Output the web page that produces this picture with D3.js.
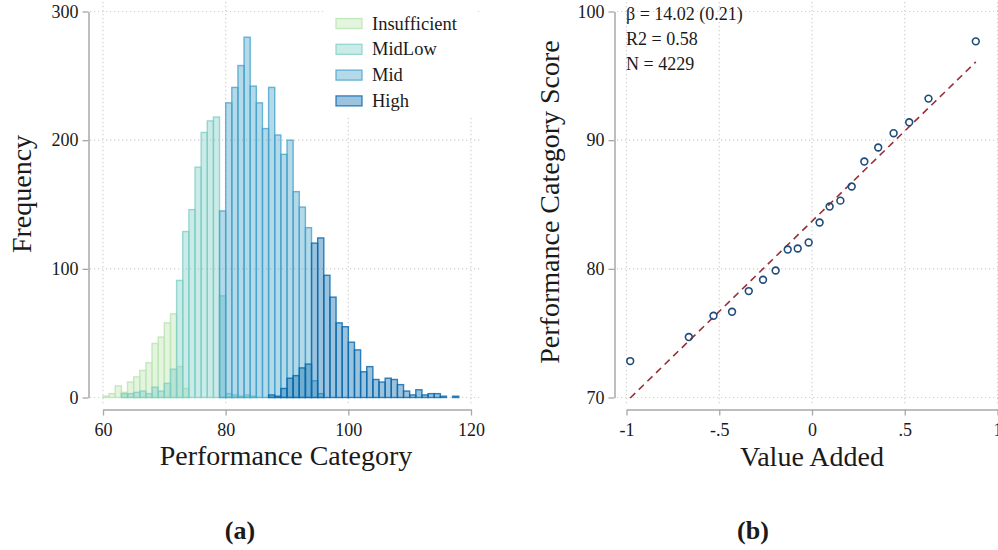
<!DOCTYPE html>
<html>
<head>
<meta charset="utf-8">
<script src="https://cdn.jsdelivr.net/npm/d3@7"></script>
<style>
  body { margin: 0; background: #fff; }
  svg text { font-family: "Liberation Serif", "Times New Roman", serif; fill: #1a1a1a; }
</style>
</head>
<body>
<svg id="chart" width="998" height="550"></svg>
<script>
// histogram counts per category, one value per 1-point bin starting at *Start
const insufficientStart = 60;
const insufficientCounts = [1, 3, 9, 4, 12, 16, 21, 27, 42, 47, 58, 65, 24, 7];
const midLowStart = 63;
const midLowCounts = [3, 3, 4, 5, 3, 8, 5, 11, 22, 91, 129, 146, 179, 206, 215, 218, 79, 3, 2, 1, 2, 1];
const midStart = 79;
const midCounts = [145, 229, 241, 258, 280, 242, 229, 209, 241, 204, 189, 200, 160, 148, 132, 13, 3];
const highStart = 87;
const highCounts = [2, 1, 7, 15, 17, 23, 26, 120, 124, 95, 78, 58, 55, 43, 37, 20, 24, 14, 12, 15, 14, 10, 5, 2, 6, 2, 3, 3, 1, 0, 1];
const categoryNames = ['Insufficient', 'MidLow', 'Mid', 'High'];

const histXTicks = [60, 80, 100, 120];
const histYTicks = [0, 100, 200, 300];

// binned scatter (value added vs performance category score)
const valueAdded = [-0.98, -0.664, -0.531, -0.431, -0.341, -0.264, -0.196, -0.131, -0.077, -0.018,
  0.041, 0.095, 0.153, 0.214, 0.282, 0.357, 0.44, 0.524, 0.628, 0.883];
const categoryScore = [72.83, 74.7, 76.35, 76.66, 78.27, 79.15, 79.87, 81.5, 81.58, 82.05,
  83.6, 84.84, 85.3, 86.4, 88.34, 89.43, 90.54, 91.39, 93.23, 97.68];
const fitSlope = 14.02;
const fitIntercept = 83.7;
const statLines = ['\u03b2 = 14.02 (0.21)', 'R2 = 0.58', 'N = 4229'];

const vaTicks = [-1, -0.5, 0, 0.5, 1];
const vaTickLabels = ['-1', '-.5', '0', '.5', '1'];
const scoreTicks = [70, 80, 90, 100];

const styles = {
  Insufficient: { fill: '#ccebc5', fo: 0.55, stroke: '#bfe5b7', so: 0.9 },
  MidLow: { fill: '#7bccc4', fo: 0.4, stroke: '#7bccc4', so: 0.75 },
  Mid: { fill: '#43a2ca', fo: 0.4, stroke: '#43a2ca', so: 0.78 },
  High: { fill: '#0868ac', fo: 0.4, stroke: '#0868ac', so: 0.82 }
};

const series = [
  { name: 'Insufficient', start: insufficientStart, counts: insufficientCounts },
  { name: 'MidLow', start: midLowStart, counts: midLowCounts },
  { name: 'Mid', start: midStart, counts: midCounts },
  { name: 'High', start: highStart, counts: highCounts }
];

const svg = d3.select('#chart');
const gridColor = '#cfcfcf';
const axisColor = '#a8a8a8';

function styleAxis(g) {
  g.select('.domain').attr('stroke', axisColor).attr('stroke-width', 1.5);
  g.selectAll('.tick line').attr('stroke', axisColor).attr('stroke-width', 1.3);
  g.selectAll('.tick text').attr('font-size', 18).attr('fill', '#1a1a1a')
    .attr('font-family', '"Liberation Serif", serif');
}

function grid(g, xs, ys, x0, x1, y0, y1) {
  g.selectAll('.hgrid').data(ys).enter().append('line')
    .attr('x1', x0).attr('x2', x1)
    .attr('y1', d => d).attr('y2', d => d)
    .attr('stroke', gridColor).attr('stroke-width', 1.2).attr('stroke-dasharray', '1.2,2.8');
  g.selectAll('.vgrid').data(xs).enter().append('line')
    .attr('x1', d => d).attr('x2', d => d)
    .attr('y1', y0).attr('y2', y1)
    .attr('stroke', gridColor).attr('stroke-width', 1.2).attr('stroke-dasharray', '1.2,2.8');
}

// ---------- panel (a): histogram ----------
const xL = d3.scaleLinear().domain([60, 120]).range([103, 471]);
const yL = d3.scaleLinear().domain([0, 300]).range([397.5, 11.5]);

const left = svg.append('g');
grid(left, histXTicks.map(xL), histYTicks.map(yL), 90, 481, 2, 406);

series.forEach(s => {
  const st = styles[s.name];
  const bars = s.counts.map((c, i) => ({ x0: s.start + i, count: c })).filter(d => d.count > 0);
  left.selectAll('.bar_' + s.name).data(bars).enter().append('rect')
    .attr('class', 'bar_' + s.name)
    .attr('x', d => xL(d.x0))
    .attr('y', d => yL(d.count))
    .attr('width', d => xL(d.x0 + 1) - xL(d.x0))
    .attr('height', d => yL(0) - yL(d.count))
    .attr('fill', st.fill).attr('fill-opacity', st.fo)
    .attr('stroke', st.stroke).attr('stroke-opacity', st.so).attr('stroke-width', 1.4);
});

left.append('g')
  .attr('transform', 'translate(88.5,0)')
  .call(d3.axisLeft(yL).tickValues(histYTicks).tickSize(6).tickSizeOuter(0).tickPadding(4))
  .call(styleAxis);

left.append('g')
  .attr('transform', 'translate(0,409.5)')
  .call(d3.axisBottom(xL).tickValues(histXTicks).tickSize(6).tickSizeOuter(0).tickPadding(8))
  .call(styleAxis);

// legend
const legend = left.append('g');
legend.append('rect').attr('x', 326).attr('y', 0).attr('width', 152).attr('height', 117).attr('fill', '#fff');
const items = legend.selectAll('.legend').data(categoryNames).enter().append('g')
  .attr('class', 'legend')
  .attr('transform', (d, i) => 'translate(336,' + (18.5 + i * 25.8) + ')');
items.append('rect')
  .attr('width', 26).attr('height', 10)
  .attr('fill', d => styles[d].fill).attr('fill-opacity', d => styles[d].fo)
  .attr('stroke', d => styles[d].stroke).attr('stroke-opacity', d => styles[d].so).attr('stroke-width', 1.3);
items.append('text')
  .attr('x', 36).attr('y', 11)
  .attr('font-size', 18.5)
  .text(d => d);

left.append('text')
  .attr('transform', 'translate(31,194) rotate(-90)')
  .attr('text-anchor', 'middle').attr('font-size', 28)
  .text('Frequency');
left.append('text')
  .attr('x', 286).attr('y', 465)
  .attr('text-anchor', 'middle').attr('font-size', 28)
  .text('Performance Category');
left.append('text')
  .attr('x', 240).attr('y', 539)
  .attr('text-anchor', 'middle').attr('font-size', 26).attr('font-weight', 'bold')
  .text('(a)');

// ---------- panel (b): binned scatter ----------
const xR = d3.scaleLinear().domain([-1, 1]).range([626.5, 997.5]);
const yR = d3.scaleLinear().domain([70, 100]).range([397.5, 11.5]);

const right = svg.append('g');
grid(right, vaTicks.map(xR), scoreTicks.map(yR), 617, 998, 2, 406);

const xExt = d3.extent(valueAdded);
right.append('line')
  .attr('x1', xR(xExt[0])).attr('y1', yR(fitIntercept + fitSlope * xExt[0]))
  .attr('x2', xR(xExt[1])).attr('y2', yR(fitIntercept + fitSlope * xExt[1]))
  .attr('stroke', '#9a2f3a').attr('stroke-width', 1.6).attr('stroke-dasharray', '7,5');

right.selectAll('.pt').data(valueAdded).enter().append('circle')
  .attr('class', 'pt')
  .attr('cx', d => xR(d))
  .attr('cy', (d, i) => yR(categoryScore[i]))
  .attr('r', 3.4)
  .attr('fill', 'none').attr('stroke', '#1d4b7c').attr('stroke-width', 1.6);

right.append('g')
  .attr('transform', 'translate(614.5,0)')
  .call(d3.axisLeft(yR).tickValues(scoreTicks).tickSize(6).tickSizeOuter(0).tickPadding(4))
  .call(styleAxis);

right.append('g')
  .attr('transform', 'translate(0,409.5)')
  .call(d3.axisBottom(xR).tickValues(vaTicks).tickSize(6).tickSizeOuter(0).tickPadding(8)
    .tickFormat((d, i) => vaTickLabels[i]))
  .call(styleAxis);

right.selectAll('.stat').data(statLines).enter().append('text')
  .attr('class', 'stat')
  .attr('x', 626).attr('y', (d, i) => 19.5 + i * 25)
  .attr('font-size', 18)
  .text(d => d);

right.append('text')
  .attr('transform', 'translate(559,202) rotate(-90)')
  .attr('text-anchor', 'middle').attr('font-size', 28)
  .text('Performance Category Score');
right.append('text')
  .attr('x', 812).attr('y', 466)
  .attr('text-anchor', 'middle').attr('font-size', 28)
  .text('Value Added');
right.append('text')
  .attr('x', 753).attr('y', 539)
  .attr('text-anchor', 'middle').attr('font-size', 26).attr('font-weight', 'bold')
  .text('(b)');
</script>
</body>
</html>
